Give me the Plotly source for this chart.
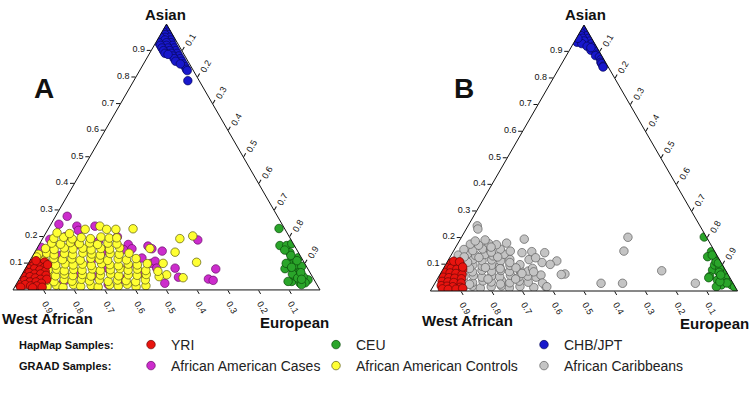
import plotly.graph_objects as go

# ---------------- data: (European, Asian) ancestry fractions; West African = 1 - Asian - European
tick_vals = [0.1, 0.2, 0.3, 0.4, 0.5, 0.6, 0.7, 0.8, 0.9]
axis_titles = ['Asian', 'West African', 'European']
panel_labels = ['A', 'B']
legend_groups = ['HapMap Samples:', 'GRAAD Samples:']

yri_A = [(0.01, 0.10), (0.03, 0.10), (0.05, 0.105), (0.005, 0.09), (0.02, 0.09), (0.04, 0.09),
         (0.06, 0.085), (0.01, 0.08), (0.03, 0.08), (0.05, 0.075), (0.07, 0.07), (0.005, 0.07),
         (0.02, 0.065), (0.04, 0.06), (0.06, 0.06), (0.08, 0.055), (0.01, 0.05), (0.03, 0.05),
         (0.05, 0.045), (0.07, 0.04), (0.09, 0.04), (0.02, 0.035), (0.04, 0.03), (0.06, 0.03),
         (0.08, 0.025), (0.01, 0.02), (0.03, 0.02), (0.05, 0.015), (0.07, 0.015), (0.09, 0.01),
         (0.02, 0.01), (0.06, 0.008), (0.02, 0.11), (0.065, 0.095)]

ceu_A = [(0.751, 0.231), (0.786, 0.167), (0.808, 0.167), (0.821, 0.174), (0.832, 0.14),
         (0.851, 0.114), (0.869, 0.121), (0.846, 0.08), (0.874, 0.076), (0.90, 0.07),
         (0.892, 0.032), (0.922, 0.026), (0.942, 0.038), (0.92, 0.05), (0.891, 0.053),
         (0.854, 0.095), (0.876, 0.095), (0.896, 0.089), (0.88, 0.032), (0.938, 0.027),
         (0.88, 0.06), (0.84, 0.10), (0.84, 0.13), (0.81, 0.15), (0.905, 0.045),
         (0.93, 0.02), (0.87, 0.11), (0.865, 0.085), (0.905, 0.065), (0.92, 0.04)]

chb_A = [(0.005, 0.99), (0.01, 0.98), (0.02, 0.97), (0.005, 0.97), (0.03, 0.96), (0.015, 0.96),
         (0.035, 0.95), (0.02, 0.95), (0.005, 0.95), (0.045, 0.94), (0.025, 0.94), (0.05, 0.93),
         (0.035, 0.93), (0.01, 0.93), (0.06, 0.92), (0.04, 0.92), (0.02, 0.92), (0.07, 0.91),
         (0.05, 0.91), (0.03, 0.91), (0.08, 0.90), (0.06, 0.90), (0.04, 0.90), (0.09, 0.89),
         (0.07, 0.89), (0.05, 0.89), (0.10, 0.88), (0.08, 0.88), (0.11, 0.87), (0.09, 0.87),
         (0.12, 0.86), (0.10, 0.86), (0.13, 0.85), (0.14, 0.84), (0.062, 0.886), (0.176, 0.787),
         (0.15, 0.83), (0.155, 0.825), (0.12, 0.85)]

cases_A = [(0.038, 0.277), (0.026, 0.247), (0.088, 0.240), (0.101, 0.224), (0.147, 0.240),
           (0.025, 0.190), (0.026, 0.146), (0.187, 0.183), (0.231, 0.158), (0.29, 0.171),
           (0.284, 0.152), (0.012, 0.16), (0.06, 0.07), (0.15, 0.03), (0.2, 0.11), (0.25, 0.05),
           (0.3, 0.02), (0.33, 0.09), (0.36, 0.12), (0.12, 0.17), (0.24, 0.2), (0.27, 0.08),
           (0.18, 0.06), (0.34, 0.04), (0.38, 0.06), (0.4, 0.1), (0.09, 0.13), (0.22, 0.14),
           (0.31, 0.155), (0.07, 0.2), (0.357, 0.165), (0.375, 0.155), (0.413, 0.146),
           (0.409, 0.108), (0.427, 0.082), (0.487, 0.082), (0.515, 0.048), (0.482, 0.025),
           (0.508, 0.188), (0.616, 0.041), (0.634, 0.036), (0.621, 0.079)]

controls_A = [(0.105, 0.012), (0.132, 0.018), (0.158, 0.010), (0.187, 0.020), (0.214, 0.013),
              (0.246, 0.017), (0.272, 0.011), (0.305, 0.019), (0.336, 0.014), (0.362, 0.021),
              (0.395, 0.012), (0.425, 0.016),
              (0.092, 0.036), (0.118, 0.031), (0.147, 0.039), (0.176, 0.033), (0.203, 0.040),
              (0.232, 0.034), (0.262, 0.038), (0.294, 0.032), (0.322, 0.037), (0.351, 0.035),
              (0.384, 0.031), (0.412, 0.038),
              (0.087, 0.057), (0.112, 0.053), (0.138, 0.059), (0.168, 0.054), (0.197, 0.058),
              (0.228, 0.052), (0.257, 0.056), (0.288, 0.060), (0.318, 0.053), (0.347, 0.057),
              (0.377, 0.055), (0.405, 0.058),
              (0.077, 0.075), (0.103, 0.078), (0.131, 0.072), (0.159, 0.077), (0.188, 0.074),
              (0.219, 0.079), (0.248, 0.073), (0.279, 0.076), (0.309, 0.080), (0.338, 0.074),
              (0.366, 0.078), (0.396, 0.073),
              (0.063, 0.096), (0.092, 0.093), (0.121, 0.098), (0.149, 0.094), (0.178, 0.097),
              (0.209, 0.092), (0.239, 0.099), (0.268, 0.095), (0.298, 0.091), (0.327, 0.097),
              (0.358, 0.094), (0.388, 0.099),
              (0.022, 0.116), (0.046, 0.112), (0.074, 0.118), (0.104, 0.114), (0.133, 0.117),
              (0.163, 0.112), (0.194, 0.119), (0.224, 0.115), (0.253, 0.111), (0.284, 0.117),
              (0.313, 0.113), (0.342, 0.118),
              (0.016, 0.134), (0.041, 0.138), (0.068, 0.132), (0.099, 0.137), (0.128, 0.133),
              (0.158, 0.139), (0.189, 0.135), (0.219, 0.131), (0.248, 0.137), (0.279, 0.134),
              (0.309, 0.138),
              (0.028, 0.156), (0.058, 0.152), (0.088, 0.158), (0.118, 0.154), (0.149, 0.157),
              (0.179, 0.151), (0.208, 0.156), (0.238, 0.153), (0.268, 0.159),
              (0.038, 0.176), (0.069, 0.172), (0.098, 0.178), (0.129, 0.174), (0.161, 0.177),
              (0.190, 0.171), (0.221, 0.176), (0.252, 0.173),
              (0.036, 0.194), (0.066, 0.198), (0.097, 0.192), (0.124, 0.197), (0.156, 0.193),
              (0.187, 0.199), (0.216, 0.195), (0.240, 0.196),
              (0.036, 0.215), (0.078, 0.212), (0.121, 0.228), (0.163, 0.240), (0.191, 0.228),
              (0.221, 0.228), (0.276, 0.230),
              (0.447, 0.193), (0.484, 0.203), (0.368, 0.156), (0.457, 0.142), (0.439, 0.100),
              (0.546, 0.104), (0.472, 0.057), (0.531, 0.046), (0.451, 0.050), (0.437, 0.070),
              (0.015, 0.124)]

yri_B = [(0.012, 0.105), (0.03, 0.10), (0.05, 0.098), (0.008, 0.088), (0.025, 0.085), (0.045, 0.082),
         (0.065, 0.08), (0.01, 0.07), (0.03, 0.068), (0.05, 0.066), (0.072, 0.062), (0.015, 0.052),
         (0.035, 0.05), (0.055, 0.048), (0.078, 0.046), (0.02, 0.036), (0.04, 0.034), (0.06, 0.032),
         (0.085, 0.03), (0.025, 0.02), (0.045, 0.018), (0.065, 0.016), (0.09, 0.014), (0.035, 0.008),
         (0.055, 0.006), (0.08, 0.007), (0.10, 0.01), (0.02, 0.112), (0.04, 0.11), (0.06, 0.09)]

ceu_B = [(0.79, 0.203), (0.841, 0.148), (0.838, 0.129), (0.872, 0.117), (0.896, 0.091),
         (0.879, 0.079), (0.917, 0.068), (0.882, 0.054), (0.914, 0.041), (0.942, 0.041),
         (0.936, 0.023), (0.969, 0.023), (0.923, 0.016), (0.937, 0.06), (0.918, 0.079),
         (0.876, 0.098), (0.881, 0.05), (0.982, 0.016), (0.875, 0.11), (0.90, 0.085),
         (0.905, 0.07), (0.95, 0.03), (0.925, 0.035), (0.915, 0.06), (0.85, 0.135), (0.885, 0.105)]

chb_B = [(0.005, 0.99), (0.012, 0.98), (0.02, 0.97), (0.005, 0.97), (0.03, 0.96), (0.01, 0.96),
         (0.04, 0.95), (0.02, 0.95), (0.05, 0.94), (0.03, 0.94), (0.01, 0.935), (0.06, 0.93),
         (0.028, 0.93), (0.07, 0.92), (0.05, 0.92), (0.08, 0.91), (0.07, 0.905), (0.09, 0.90),
         (0.10, 0.89), (0.095, 0.885), (0.11, 0.88), (0.12, 0.87), (0.125, 0.86), (0.13, 0.855),
         (0.14, 0.845), (0.141, 0.842), (0.005, 0.95), (0.065, 0.915)]

caribbean_B = [(0.10, 0.014), (0.128, 0.018), (0.157, 0.011), (0.19, 0.016), (0.222, 0.019),
               (0.251, 0.012), (0.283, 0.017), (0.33, 0.013), (0.368, 0.016),
               (0.09, 0.036), (0.121, 0.032), (0.152, 0.038), (0.181, 0.034), (0.212, 0.039),
               (0.243, 0.031), (0.271, 0.037), (0.302, 0.033),
               (0.082, 0.055), (0.111, 0.058), (0.142, 0.052), (0.171, 0.057), (0.199, 0.053),
               (0.231, 0.059), (0.262, 0.054), (0.289, 0.056), (0.318, 0.052),
               (0.071, 0.076), (0.101, 0.072), (0.129, 0.078), (0.162, 0.074), (0.191, 0.077),
               (0.221, 0.073), (0.252, 0.079), (0.281, 0.075),
               (0.061, 0.094), (0.089, 0.098), (0.122, 0.093), (0.151, 0.097), (0.179, 0.092),
               (0.211, 0.096), (0.242, 0.099), (0.31, 0.107),
               (0.026, 0.116), (0.052, 0.112), (0.079, 0.118), (0.111, 0.114), (0.141, 0.117),
               (0.172, 0.113), (0.199, 0.119), (0.262, 0.118),
               (0.023, 0.135), (0.051, 0.139), (0.081, 0.133), (0.109, 0.137), (0.138, 0.132),
               (0.171, 0.138), (0.226, 0.144),
               (0.031, 0.156), (0.062, 0.152), (0.091, 0.158), (0.119, 0.153), (0.149, 0.157),
               (0.042, 0.176), (0.071, 0.172), (0.101, 0.178), (0.128, 0.174), (0.158, 0.18),
               (0.052, 0.188), (0.082, 0.192),
               (0.03, 0.245), (0.038, 0.233), (0.208, 0.195), (0.542, 0.202), (0.555, 0.150),
               (0.715, 0.076), (0.541, 0.029), (0.611, 0.029), (0.848, 0.029), (0.406, 0.064),
               (0.395, 0.062), (0.355, 0.113), (0.34, 0.10), (0.256, 0.148), (0.30, 0.144),
               (0.33, 0.06), (0.35, 0.03), (0.28, 0.125), (0.29, 0.085), (0.371, 0.016),
               (0.115, 0.025), (0.165, 0.045), (0.215, 0.026), (0.255, 0.045), (0.085, 0.085),
               (0.135, 0.088), (0.185, 0.084), (0.235, 0.087), (0.095, 0.126), (0.155, 0.128),
               (0.205, 0.107), (0.125, 0.146), (0.067, 0.108), (0.265, 0.066), (0.3, 0.072),
               (0.046, 0.128), (0.115, 0.165), (0.185, 0.15)]

# ---------------- figure
fig = go.Figure()


def add(pts, name, fill, edge, subplot, legend, show):
    eu = [p[0] for p in pts]
    asn = [p[1] for p in pts]
    wa = [1 - p[0] - p[1] for p in pts]
    fig.add_trace(go.Scatterternary(
        a=asn, b=wa, c=eu, mode='markers', name=name, subplot=subplot,
        legend=legend, showlegend=show,
        marker=dict(size=8.5, color=fill, line=dict(color=edge, width=0.7))))


MAG, MAG_E = '#cc2ccc', '#6a106a'
YEL, YEL_E = '#ffff33', '#5a5a10'
RED, RED_E = '#e8140f', '#6a0a08'
GRN, GRN_E = '#2aa52a', '#0c4a0c'
BLU, BLU_E = '#1818cc', '#08085a'
GRY, GRY_E = '#c4c4c4', '#5e5e5e'

add(cases_A, 'African American Cases', MAG, MAG_E, 'ternary', 'legend4', True)
add(controls_A, 'African American Controls', YEL, YEL_E, 'ternary', 'legend5', True)
add(yri_A, 'YRI', RED, RED_E, 'ternary', 'legend', True)
add(ceu_A, 'CEU', GRN, GRN_E, 'ternary', 'legend2', True)
add(chb_A, 'CHB/JPT', BLU, BLU_E, 'ternary', 'legend3', True)
add(caribbean_B, 'African Caribbeans', GRY, GRY_E, 'ternary2', 'legend6', True)
add(yri_B, 'YRI', RED, RED_E, 'ternary2', 'legend', False)
add(ceu_B, 'CEU', GRN, GRN_E, 'ternary2', 'legend2', False)
add(chb_B, 'CHB/JPT', BLU, BLU_E, 'ternary2', 'legend3', False)

SANS = 'Liberation Sans, Arial, sans-serif'
TICK_FONT = dict(family=SANS, size=9, color='#111')


def axis(angle):
    return dict(title=dict(text=''),
                tickvals=tick_vals, ticks='outside', ticklen=4, tickwidth=1,
                tickcolor='#111', showline=True, linecolor='#111', linewidth=1,
                showgrid=False, tickangle=angle, tickfont=TICK_FONT)


def tern(xd, yd):
    return dict(domain=dict(x=xd, y=yd), bgcolor='white', sum=1,
                aaxis=axis(0), baxis=axis(60), caxis=axis(-60))


W, H = 751, 393


def ann(text, x, y, size, xanchor='center', bold=True, family=SANS):
    return dict(text=('<b>%s</b>' % text) if bold else text, x=x / W, y=1 - y / H,
                xref='paper', yref='paper', xanchor=xanchor, yanchor='middle',
                showarrow=False, font=dict(family=family, size=size, color='#111'))


def leg(x_sym, y_row):
    return dict(orientation='h', x=(x_sym - 19) / W, xanchor='left', y=1 - y_row / H,
                yanchor='middle', itemwidth=30,
                font=dict(family=SANS, size=14, color='#222'),
                bgcolor='rgba(0,0,0,0)')


col_x = [150, 335, 543]
row_y = [345, 366]

annotations = [
    ann(panel_labels[0], 44, 88, 28), ann(panel_labels[1], 464, 88, 28),
    ann(axis_titles[0], 165, 15, 15), ann(axis_titles[0], 585, 15, 15),
    ann(axis_titles[1], 47, 318, 15), ann(axis_titles[1], 467, 320, 15),
    ann(axis_titles[2], 294, 322, 15), ann(axis_titles[2], 714, 323, 15),
    ann(legend_groups[0], 17, row_y[0], 11, 'left'),
    ann(legend_groups[1], 17, row_y[1], 11, 'left'),
]

fig.update_layout(
    width=W, height=H, margin=dict(l=0, r=0, t=0, b=0),
    paper_bgcolor='white', plot_bgcolor='white',
    ternary=tern([13 / W, 320 / W], [103 / H, 369 / H]),
    ternary2=tern([430 / W, 738 / W], [102 / H, 368 / H]),
    legend=leg(col_x[0], row_y[0]), legend2=leg(col_x[1], row_y[0]),
    legend3=leg(col_x[2], row_y[0]), legend4=leg(col_x[0], row_y[1]),
    legend5=leg(col_x[1], row_y[1]), legend6=leg(col_x[2], row_y[1]),
    annotations=annotations,
)

fig.write_html('out.html', config={'displayModeBar': False},
               post_script="document.body.style.margin='0';")
